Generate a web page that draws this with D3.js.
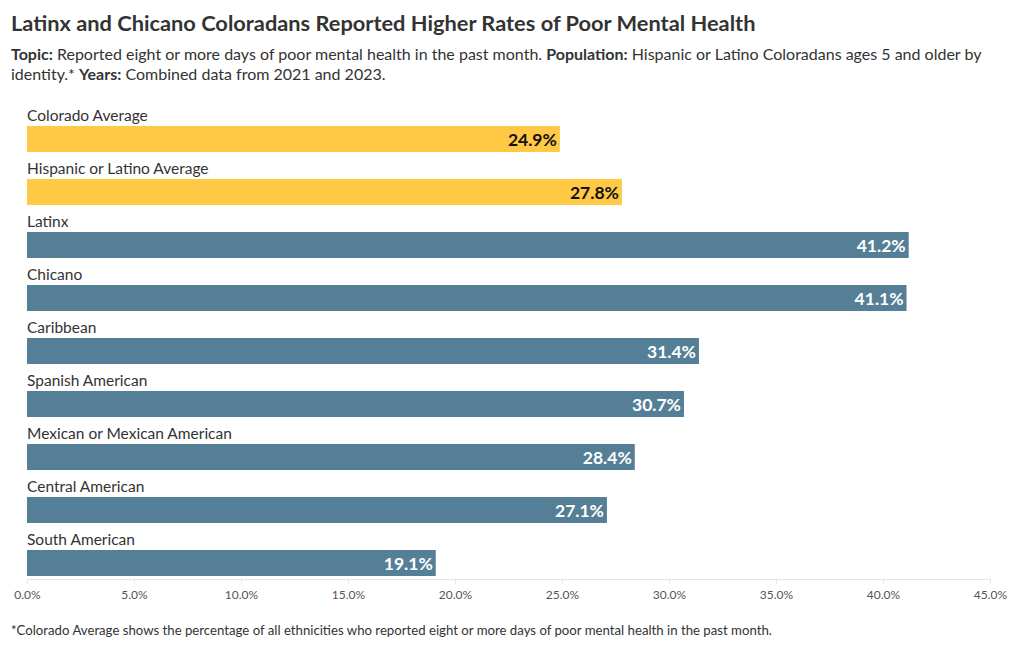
<!DOCTYPE html>
<html><head><meta charset="utf-8">
<script src="https://cdn.jsdelivr.net/npm/d3@7"></script>
<style>body{margin:0;background:#fff;} svg{font-family:"Source Sans Pro",Lato,"Noto Sans",sans-serif;}</style>
</head><body><svg id="c" width="1020" height="650"></svg>
<script>
const categories = ["Colorado Average","Hispanic or Latino Average","Latinx","Chicano","Caribbean","Spanish American","Mexican or Mexican American","Central American","South American"];
const values = [24.9,27.8,41.2,41.1,31.4,30.7,28.4,27.1,19.1];
const groups = ["avg","avg","id","id","id","id","id","id","id"];
const ticks = [0,5,10,15,20,25,30,35,40,45];

const svg = d3.select("#c");
const colors = {avg:"#FFC845", id:"#557F96"};
const labelColors = {avg:"#111", id:"#fff"};
const x = d3.scaleLinear().domain([0,45]).range([27,990]);
const y = d3.scaleBand().domain(categories).range([100,577]).paddingInner(0).paddingOuter(0);

svg.append("text").attr("x",11).attr("y",31).attr("font-size",21.8).attr("font-weight",700).attr("fill","#333")
  .text("Latinx and Chicano Coloradans Reported Higher Rates of Poor Mental Health");
const sub1 = svg.append("text").attr("x",11).attr("y",60).attr("font-size",16).attr("fill","#333");
sub1.append("tspan").attr("font-weight",700).text("Topic:");
sub1.append("tspan").text(" Reported eight or more days of poor mental health in the past month. ");
sub1.append("tspan").attr("font-weight",700).text("Population:");
sub1.append("tspan").text(" Hispanic or Latino Coloradans ages 5 and older by");
const sub2 = svg.append("text").attr("x",11).attr("y",80).attr("font-size",16).attr("fill","#333");
sub2.append("tspan").text("identity.* ");
sub2.append("tspan").attr("font-weight",700).text("Years:");
sub2.append("tspan").text(" Combined data from 2021 and 2023.");

// axis
const axis = d3.axisBottom(x).tickValues(ticks).tickFormat(d=>d.toFixed(1)+"%").tickSize(5).tickPadding(6);
const ag = svg.append("g").attr("transform","translate(0,579)").call(axis);
ag.select(".domain").attr("stroke","#e6e6e6");
ag.selectAll(".tick line").attr("stroke","#e6e6e6");
ag.selectAll(".tick text").attr("font-size",12).attr("fill","#555").attr("font-family","'Source Sans Pro',Lato,sans-serif");

const rows = svg.append("g").selectAll("g").data(categories).join("g")
  .attr("transform",d=>`translate(0,${y(d)})`);
rows.append("text").attr("x",27).attr("y",21).attr("font-size",15.5).attr("fill","#333").text(d=>d);
rows.append("rect").attr("x",x(0)).attr("y",26).attr("height",26)
  .attr("width",(d,i)=>x(values[i])-x(0)).attr("fill",(d,i)=>colors[groups[i]]);
rows.append("text").attr("x",(d,i)=>x(values[i])-3).attr("y",45.5).attr("text-anchor","end")
  .attr("font-size",17.5).attr("font-weight",700).attr("fill",(d,i)=>labelColors[groups[i]])
  .text((d,i)=>values[i].toFixed(1)+"%");

svg.append("text").attr("x",11).attr("y",635).attr("font-size",13.2).attr("fill","#333")
  .text("*Colorado Average shows the percentage of all ethnicities who reported eight or more days of poor mental health in the past month.");
</script></body></html>
